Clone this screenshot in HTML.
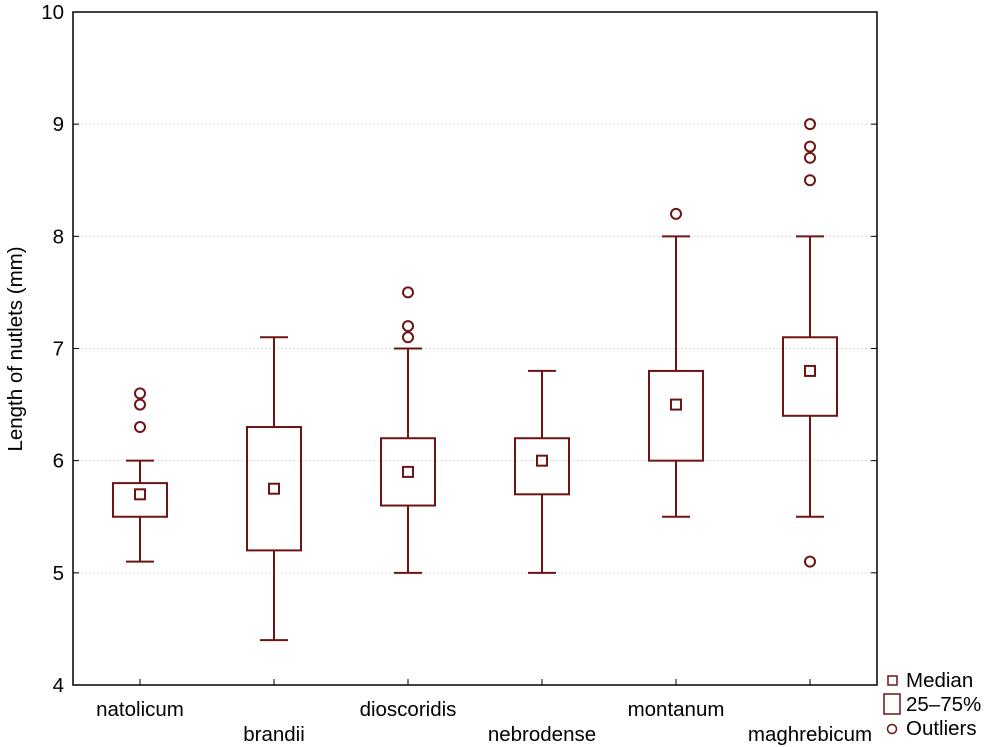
<!DOCTYPE html>
<html><head><meta charset="utf-8"><style>
body{margin:0;background:#fff}
svg{display:block;font-family:"Liberation Sans",Arial,sans-serif}
</style></head><body>
<svg id="chart" width="994" height="747"></svg>
<script>
const categories=["natolicum","brandii","dioscoridis","nebrodense","montanum","maghrebicum"];
const mins=[5.1,4.4,5.0,5.0,5.5,5.5];
const q1s=[5.5,5.2,5.6,5.7,6.0,6.4];
const medians=[5.7,5.75,5.9,6.0,6.5,6.8];
const q3s=[5.8,6.3,6.2,6.2,6.8,7.1];
const maxs=[6.0,7.1,7.0,6.8,8.0,8.0];
const outliers=[[6.3,6.5,6.6],[],[7.1,7.2,7.5],[],[8.2],[5.1,8.5,8.7,8.8,9.0]];
const yTicks=[4,5,6,7,8,9,10];

const NS="http://www.w3.org/2000/svg";
const svg=document.getElementById('chart');
const L=73,R=877,T=12,B=685,C="#6e1414",FS=20.5;
const y=v=>B-(v-4)/(10-4)*(B-T);
const bw=(R-L)/categories.length;
const x=i=>L+bw*(i+0.5);
function mk(t,a,p){const e=document.createElementNS(NS,t);for(const k in a)e.setAttribute(k,a[k]);(p||svg).appendChild(e);return e;}

yTicks.forEach(v=>{
  if(v>4&&v<10){const g=mk('line',{x1:L,x2:R,y1:y(v),y2:y(v),stroke:'#d8dcdc','stroke-dasharray':'2,2'});
  
  }
  const tk=mk('line',{x1:L,x2:L+6,y1:y(v),y2:y(v),stroke:'#000'});
  
  
  const tk2=mk('line',{x1:R-6,x2:R,y1:y(v),y2:y(v),stroke:'#000'});
  
  
  const t=mk('text',{x:L-9,y:y(v)+7,'text-anchor':'end','font-size':FS});
  t.textContent=v;
  
  
});
const ax=mk('rect',{x:L,y:T,width:R-L,height:B-T,fill:'none',stroke:'#000','stroke-width':1.5});



categories.forEach((c,i)=>{
  const cx=x(i);
  const g=mk('g',{});
  
  
  const s={stroke:C,'stroke-width':2,fill:'none'};
  mk('line',Object.assign({x1:cx,x2:cx,y1:y(maxs[i]),y2:y(q3s[i])},s),g);
  mk('line',Object.assign({x1:cx,x2:cx,y1:y(q1s[i]),y2:y(mins[i])},s),g);
  mk('line',Object.assign({x1:cx-14,x2:cx+14,y1:y(maxs[i]),y2:y(maxs[i])},s),g);
  mk('line',Object.assign({x1:cx-14,x2:cx+14,y1:y(mins[i]),y2:y(mins[i])},s),g);
  mk('rect',Object.assign({x:cx-27,y:y(q3s[i]),width:54,height:y(q1s[i])-y(q3s[i])},s),g);
  mk('rect',Object.assign({x:cx-5,y:y(medians[i])-5,width:10,height:10},s),g);
  outliers[i].forEach(o=>{mk('circle',Object.assign({cx:cx,cy:y(o),r:5},s),g);});
  const tk=mk('line',{x1:cx,x2:cx,y1:B-6,y2:B,stroke:'#000'});
  
  
  const t=mk('text',{x:cx,y:i%2?741:716,'text-anchor':'middle','font-size':FS});
  t.textContent=c;
  
  
});
const yl=mk('text',{x:0,y:0,transform:'translate(22,349) rotate(-90)','text-anchor':'middle','font-size':FS});
yl.textContent='Length of nutlets (mm)';



const lg=mk('g',{});


mk('rect',{x:888,y:676,width:9,height:9,fill:'none',stroke:C,'stroke-width':1.5},lg);
mk('rect',{x:884,y:694,width:16,height:20,fill:'none',stroke:C,'stroke-width':1.5},lg);
mk('circle',{cx:892,cy:729,r:4.5,fill:'none',stroke:C,'stroke-width':1.5},lg);
[['Median',687],['25–75%',711],['Outliers',735]].forEach(([s,yy])=>{
  const t=mk('text',{x:906,y:yy,'font-size':FS},lg);t.textContent=s;
});
</script>
</body></html>
